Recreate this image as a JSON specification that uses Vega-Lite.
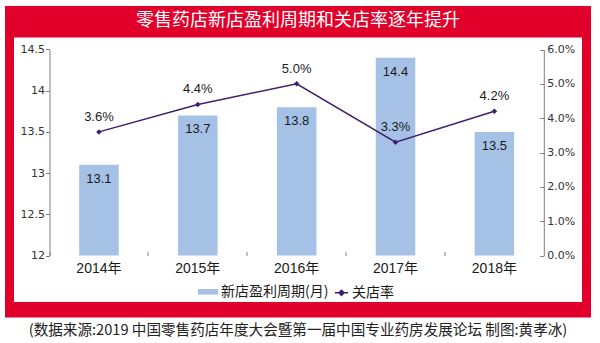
{
  "$schema": "https://vega.github.io/schema/vega-lite/v6.json",
  "background": "white",
  "padding": {"left": 5, "top": 6, "right": 9, "bottom": 0},
  "bounds": "flush",
  "spacing": 0,
  "center": true,
  "config": {"view": {"stroke": null}, "font": "Liberation Sans, Noto Sans CJK SC"},
  "vconcat": [
    {
      "width": 586,
      "height": 27,
      "view": {"fill": "#E1002A", "stroke": null},
      "data": {"values": [{"t": "零售药店新店盈利周期和关店率逐年提升"}]},
      "mark": {"type": "text", "color": "white", "fontSize": 18, "font": "Noto Sans CJK SC", "align": "center", "baseline": "middle", "dy": 1},
      "encoding": {"text": {"field": "t"}}
    },
    {
      "width": 577,
      "height": 273.5,
      "view": {"fill": "white", "stroke": "#E1002A", "strokeWidth": 9},
      "data": {"values": [
        {"year": "2014年", "months": 13.1, "rate": 0.036},
        {"year": "2015年", "months": 13.7, "rate": 0.044},
        {"year": "2016年", "months": 13.8, "rate": 0.050},
        {"year": "2017年", "months": 14.4, "rate": 0.033},
        {"year": "2018年", "months": 13.5, "rate": 0.042}
      ]},
      "encoding": {
        "x": {
          "field": "year", "type": "ordinal", "sort": null,
          "scale": {"type": "band", "paddingInner": 0.6, "paddingOuter": 0.7183, "align": 0.4906},
          "axis": {"orient": "bottom", "offset": -51, "domain": false, "bandPosition": -0.75, "tickSize": -4, "tickColor": "#7f7f7f", "labelPadding": 10, "labelFontSize": 14, "labelAngle": 0, "labelColor": "#1a1a1a", "title": null, "grid": false}
        }
      },
      "layer": [
        {
          "encoding": {
            "y": {
              "field": "months", "type": "quantitative",
              "scale": {"domain": [11.3811, 14.7002], "nice": false, "zero": false},
              "axis": {"orient": "left", "offset": -40, "values": [12, 12.5, 13, 13.5, 14, 14.5], "format": "~g", "domainDash": [0, 51, 206, 1000], "domainColor": "#7f7f7f", "tickColor": "#7f7f7f", "tickSize": 4, "labelPadding": 1, "labelFont": "DejaVu Sans", "labelFontSize": 11, "labelColor": "#333333", "labelOverlap": false, "title": null, "grid": false}
            }
          },
          "layer": [
            {
              "mark": {"type": "bar"},
              "encoding": {
                "y2": {"datum": 12},
                "color": {
                  "datum": "新店盈利周期(月)",
                  "scale": {"range": ["#A5C2E6"]},
                  "legend": {"orient": "none", "legendX": 193, "legendY": 275.8, "title": null, "padding": 0, "symbolType": "M-1,-0.28H1V0.28H-1Z", "symbolSize": 400, "symbolStrokeWidth": 0, "labelFontSize": 14, "labelFont": "Noto Sans CJK SC", "labelColor": "#1a1a1a", "labelOffset": 3}
                }
              }
            },
            {
              "mark": {"type": "text", "dy": 14, "fontSize": 13, "color": "#1a1a1a", "baseline": "middle"},
              "encoding": {"text": {"field": "months", "type": "quantitative", "format": ".1f"}}
            }
          ]
        },
        {
          "encoding": {
            "y": {
              "field": "rate", "type": "quantitative",
              "scale": {"domain": [-0.014854, 0.064806], "nice": false, "zero": false},
              "axis": {"orient": "right", "offset": -42.7, "values": [0, 0.01, 0.02, 0.03, 0.04, 0.05, 0.06], "format": ".1%", "domainDash": [0, 51, 206, 1000], "domainColor": "#7f7f7f", "tickColor": "#7f7f7f", "tickSize": -4, "labelPadding": 7, "labelFont": "DejaVu Sans", "labelFontSize": 11, "labelColor": "#333333", "labelOverlap": false, "title": null, "grid": false}
            }
          },
          "layer": [
            {
              "mark": {"type": "line", "strokeWidth": 1.5},
              "encoding": {
                "stroke": {
                  "datum": "关店率",
                  "scale": {"range": ["#3E1F6E"]},
                  "legend": {"orient": "none", "legendX": 329, "legendY": 279.3, "title": null, "padding": 0, "symbolType": "M-1,0H1M-0.4,0L0,-0.4L0.4,0L0,0.4Z", "symbolSize": 169, "symbolStrokeWidth": 1.5, "symbolFillColor": "#3E1F6E", "labelFontSize": 14, "labelFont": "Noto Sans CJK SC", "labelColor": "#1a1a1a", "labelOffset": 3}
                }
              }
            },
            {
              "mark": {"type": "point", "shape": "diamond", "filled": true, "size": 30, "color": "#3E1F6E", "opacity": 1}
            },
            {
              "mark": {"type": "text", "dy": -15, "fontSize": 13, "color": "#1a1a1a", "baseline": "middle"},
              "encoding": {"text": {"field": "rate", "type": "quantitative", "format": ".1%"}}
            }
          ]
        }
      ],
      "resolve": {"scale": {"y": "independent"}}
    },
    {
      "width": 586,
      "height": 10.5,
      "view": {"fill": "#E1002A", "stroke": null},
      "data": {"values": [{"t": ""}]},
      "mark": {"type": "text"},
      "encoding": {"text": {"field": "t"}}
    },
    {
      "width": 586,
      "height": 26,
      "data": {"values": [{"t": "(数据来源:2019 中国零售药店年度大会暨第一届中国专业药房发展论坛  制图:黄孝冰)"}]},
      "mark": {"type": "text", "fontSize": 14.6, "font": "Noto Sans CJK SC", "color": "#222222", "align": "center", "baseline": "middle"},
      "encoding": {"text": {"field": "t"}}
    }
  ]
}
